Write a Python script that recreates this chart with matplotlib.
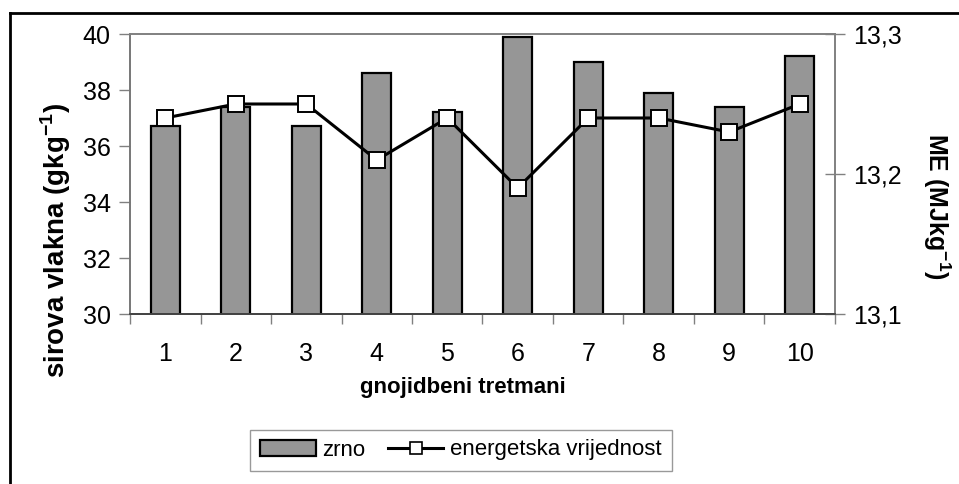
import matplotlib
matplotlib.use("Agg")
import matplotlib.pyplot as plt
from matplotlib.lines import Line2D
from matplotlib.patches import Patch
import numpy as np

plt.rcParams['font.family'] = ['Liberation Sans', 'DejaVu Sans']

treatments = ["1", "2", "3", "4", "5", "6", "7", "8", "9", "10"]
zrno = [36.7, 37.4, 36.7, 38.6, 37.2, 39.9, 39.0, 37.9, 37.4, 39.2]
energetska = [13.24, 13.25, 13.25, 13.21, 13.24, 13.19, 13.24, 13.24, 13.23, 13.25]
left_ticks = [30, 32, 34, 36, 38, 40]
right_ticks = [13.1, 13.2, 13.3]
right_labels = ["13,1", "13,2", "13,3"]

W, H = 959, 484
fig = plt.figure(figsize=(W / 100, H / 100), dpi=100)
ax = fig.add_axes([130 / W, 1 - 314 / H, (835 - 130) / W, (314 - 34) / H])
ax2 = ax.twinx()

x = np.arange(len(treatments))
ax.bar(x, zrno, width=0.41, color="#969696", edgecolor="black", linewidth=1.6, zorder=2)
ax.set_ylim(30, 40)
ax.set_xlim(-0.5, len(treatments) - 0.5)
ax.set_yticks(left_ticks)
ax.set_yticklabels([str(t) for t in left_ticks], fontsize=18)
ax.set_xticks(x)
ax.set_xticklabels(treatments, fontsize=18)
ax.set_xticks(np.arange(-0.5, len(treatments)), minor=True)
ax.tick_params(axis="x", which="major", length=0, pad=20)
ax.tick_params(axis="x", which="minor", length=7, direction="out", color="#808080", width=1)
ax.tick_params(axis="y", length=8, direction="out", color="#808080", width=1, pad=6)

fig.text(56 / W, 1 - 240 / H, "sirova vlakna (gkg$^{\\mathregular{-1}}$)", fontsize=20,
         fontweight="bold", rotation=90, ha="center", va="center")
fig.text(463 / W, 1 - 388 / H, "gnojidbeni tretmani", fontsize=16, fontweight="bold",
         ha="center", va="center")

ax2.plot(x, energetska, color="black", linewidth=2.2, marker="s", markersize=12,
         markerfacecolor="white", markeredgecolor="black", markeredgewidth=1.4, zorder=3)
ax2.set_ylim(13.1, 13.3)
ax2.set_yticks(right_ticks)
ax2.set_yticklabels(right_labels, fontsize=18)
ax2.tick_params(axis="y", length=14, direction="inout", color="#808080", width=1, pad=6)
fig.text(937 / W, 1 - 206 / H, "ME (MJkg$^{\\mathregular{-1}}$)", fontsize=18, fontweight="bold",
         rotation=270, ha="center", va="center")

for a in (ax, ax2):
    for s in a.spines.values():
        s.set_color("#808080")
        s.set_linewidth(1.2)
ax.spines["bottom"].set_color("#404040")
ax.spines["left"].set_color("#404040")
ax2.spines["bottom"].set_color("#404040")

handles = [Patch(facecolor="#969696", edgecolor="black", linewidth=1.6),
           Line2D([], [], color="black", linewidth=2.2, marker="s", markersize=9,
                  markerfacecolor="white", markeredgecolor="black", markeredgewidth=1.2)]
leg = fig.legend(handles, ["zrno", "energetska vrijednost"], loc="center",
                 bbox_to_anchor=(461 / W, 1 - 450 / H), ncol=2, fontsize=16,
                 frameon=True, fancybox=False, edgecolor="#808080",
                 handlelength=2.5, handletextpad=0.3, columnspacing=1.0,
                 borderpad=0.45)
leg.get_frame().set_linewidth(1.0)

fig.add_artist(Line2D([10 / W, 10 / W], [0, 1 - 13 / H], transform=fig.transFigure,
                      color="black", linewidth=2))
fig.add_artist(Line2D([10 / W, 1], [1 - 13 / H, 1 - 13 / H], transform=fig.transFigure,
                      color="black", linewidth=2))

fig.savefig("out.png", dpi=100, facecolor="white")
